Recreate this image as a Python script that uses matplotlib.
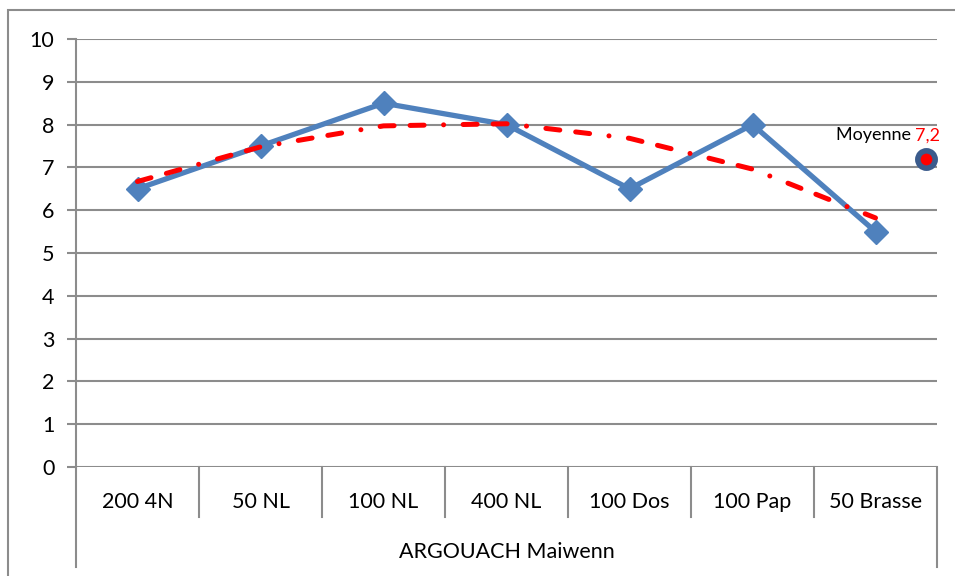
import matplotlib
matplotlib.use("Agg")
import matplotlib.pyplot as plt
from matplotlib.patches import Rectangle
from matplotlib.transforms import blended_transform_factory

plt.rcParams['font.family'] = ['Lato', 'DejaVu Sans']

categories = ["200 4N", "50 NL", "100 NL", "400 NL", "100 Dos", "100 Pap", "50 Brasse"]
scores = [6.5, 7.5, 8.5, 8.0, 6.5, 8.0, 5.5]
trend = [6.67, 7.48, 7.97, 8.02, 7.68, 6.96, 5.82]
group_label = "ARGOUACH Maiwenn"
moyenne = 7.2
moyenne_x = 6.41
yticks = list(range(0, 11))

fig = plt.figure(figsize=(9.55, 5.76), dpi=100)
ax = fig.add_axes([76/955, (576-467)/576, (937-76)/955, (467-39)/576])

grid_c = "#8c8c8c"
fs = 15.5
x = list(range(len(categories)))

ax.set_xlim(-0.5, 6.5)
ax.set_ylim(0, 10)
ax.set_yticks(yticks)
ax.set_yticklabels([str(v) for v in yticks], fontsize=fs)
ax.set_xticks([])
ax.yaxis.grid(True, color=grid_c, linewidth=1.5)
ax.set_axisbelow(True)
for s in ["top", "right", "bottom"]:
    ax.spines[s].set_visible(False)
ax.spines["left"].set_color(grid_c)
ax.spines["left"].set_linewidth(1.5)
ax.tick_params(axis="y", length=6.5, width=1.5, color=grid_c, pad=9)

ax.plot(x, scores, color="#4f81bd", linewidth=3.8, marker="D", markersize=12.5,
        markerfacecolor="#4f81bd", markeredgecolor="#4f81bd", zorder=3)
ax.plot(x, trend, color="#ff0000", linewidth=3.6,
        dashes=(2.8, 3.2, 2.8, 3.9, 0.01, 3.9),
        dash_capstyle="round", zorder=4)

ax.plot([moyenne_x], [moyenne], marker="o", markersize=12.5, markerfacecolor="#ff0000",
        markeredgecolor="#3b5b8c", markeredgewidth=4, clip_on=False, zorder=5)
t1 = ax.annotate("Moyenne ", xy=(moyenne_x, moyenne), xytext=(-65, 17),
                 textcoords="offset points", fontsize=13, color="black",
                 ha="left", va="center", annotation_clip=False)
fig.canvas.draw()
ax.annotate(f"{moyenne:.1f}".replace(".", ","), xy=(1, 0.5), xycoords=t1,
            xytext=(0, 0), textcoords="offset points", fontsize=13,
            color="#ff0000", ha="left", va="center", annotation_clip=False)

trans = blended_transform_factory(ax.transData, ax.transAxes)
h_cat = 50/428
h_all = 100/428
for b in [i + 0.5 for i in range(len(categories) - 1)]:
    ax.plot([b, b], [0, -h_cat], transform=trans, color=grid_c, lw=1.5, clip_on=False)
for b in [-0.5, 6.5]:
    ax.plot([b, b], [0, -h_all], transform=trans, color=grid_c, lw=1.5, clip_on=False)
for i, c in enumerate(categories):
    ax.text(i, -35/428, c, transform=trans, ha="center", va="center", fontsize=fs)
ax.text(3, -85/428, group_label, transform=trans, ha="center", va="center", fontsize=fs)

fig.patches.append(Rectangle((8/955, -0.1), 1.2, 1 - 10/576 + 0.1, transform=fig.transFigure,
                             fill=False, edgecolor="#8c8c8c", linewidth=1.5))

fig.savefig("out.png", dpi=100)
